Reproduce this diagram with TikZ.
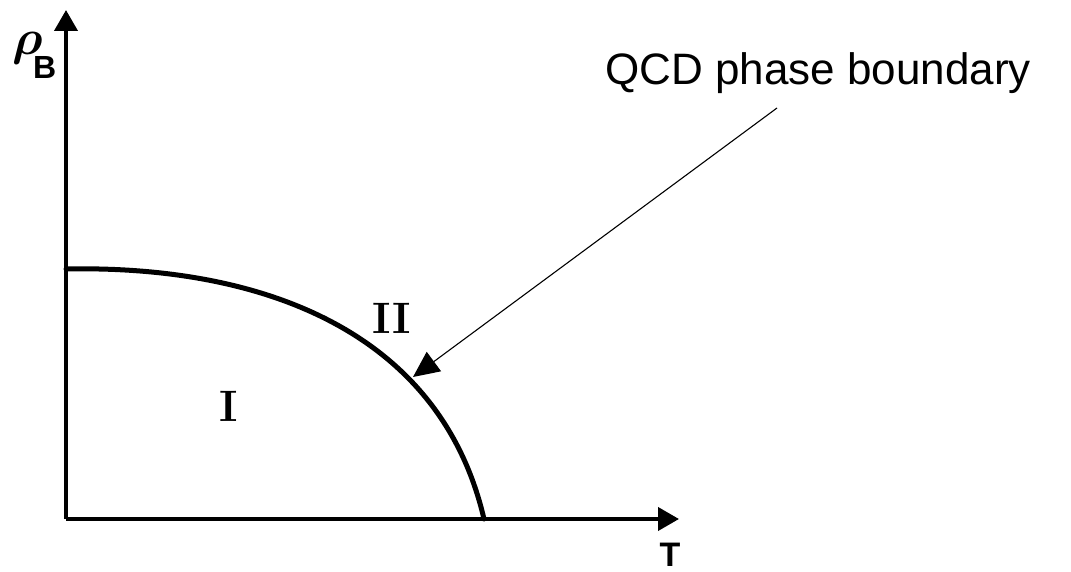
\documentclass[tikz,border=0pt]{standalone}
\usepackage{amsmath,amssymb}
\usepackage{fontspec}
\setsansfont{Liberation Sans}
\usetikzlibrary{arrows.meta,positioning}
\definecolor{ink}{HTML}{000000}
\definecolor{paper}{HTML}{FFFFFF}
\tikzset{
  axisarr/.style={-{Triangle[length=10.5pt,width=11.5pt]},line width=2pt,color=ink},
  boundary/.style={line width=2.5pt,color=ink,line cap=round},
  pointarr/.style={-{Triangle[length=13pt,width=12pt]},line width=0.55pt,color=ink},
  axislabel/.style={font=\sffamily\bfseries\fontsize{17}{20}\selectfont,inner sep=0pt},
  regionlabel/.style={font=\bfseries\fontsize{22}{26}\selectfont,inner sep=0pt},
  calloutlabel/.style={font=\sffamily\fontsize{22}{27}\selectfont,inner sep=0pt}
}
\begin{document}
\begin{tikzpicture}[x=0.5pt,y=-0.5pt]
  \useasboundingbox[fill=paper] (0,0) rectangle (1071,572);
  % axes
  \coordinate (origin) at (66,519);
  \coordinate (ytip) at (66,10);
  \coordinate (xtip) at (679,519);
  \draw[axisarr] (origin) -- (ytip);
  \draw[axisarr] (origin) -- (xtip);
  \node[axislabel,anchor=north west] (rhoB) at (12,32)
    {\fontsize{24}{26}\selectfont$\boldsymbol{\rho}$\kern-0.2em\raisebox{-0.95ex}{\fontsize{16}{20}\selectfont B}};
  \node[axislabel,anchor=north] (Tlab) at (670,543) {T};
  % phase boundary
  \coordinate (top) at (66,269);
  \coordinate (foot) at (484,519);
  \draw[boundary] (top) .. controls (260,265) and (440,330) .. (foot);
  \node[regionlabel] (regI) at (229,406) {I};
  \node[regionlabel] (regII) at (392,318) {II};
  % callout
  \node[calloutlabel,anchor=base west] (qcd) at (605,85) {QCD phase boundary};
  \coordinate (tail) at (777,108);
  \coordinate (hit) at (413,377);
  \draw[pointarr] (tail) -- (hit);
\end{tikzpicture}
\end{document}
